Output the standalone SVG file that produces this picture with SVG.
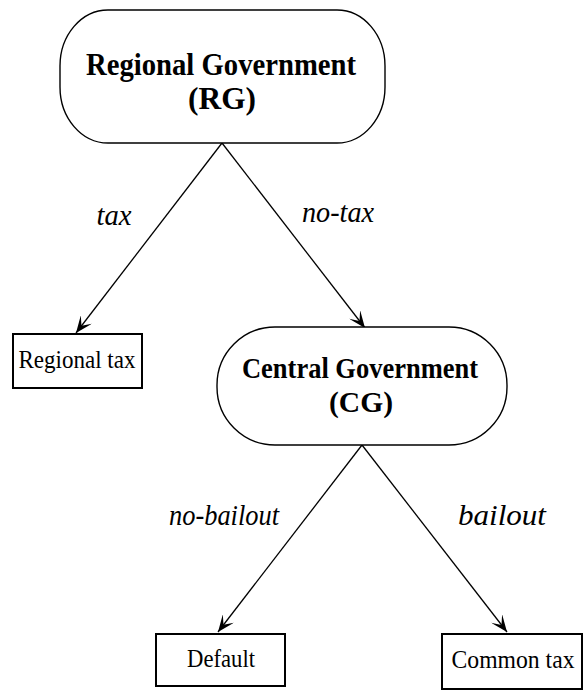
<svg xmlns="http://www.w3.org/2000/svg" width="583" height="691" viewBox="0 0 583 691">
<style>
.shape{fill:#fff;stroke:#000;stroke-width:1.4}
.box{fill:#fff;stroke:#000;stroke-width:2}
.edge{stroke:#000;stroke-width:1.3;fill:none}
.bold{font-family:"Liberation Serif","Times New Roman",serif;font-weight:bold;text-anchor:middle;fill:#000}
.reg{font-family:"Liberation Serif","Times New Roman",serif;font-size:26px;text-anchor:middle;fill:#000}
.lab{font-family:"Liberation Serif","Times New Roman",serif;font-style:italic;font-size:29px;text-anchor:middle;fill:#000}
</style>
<defs>
<marker id="ah" viewBox="0 0 17 14" refX="17" refY="7" markerWidth="17" markerHeight="14" markerUnits="userSpaceOnUse" orient="auto">
<path d="M0,0 L17,7 L0,14 L8,7 Z" fill="#000"/>
</marker>
</defs>
<g id="connectors">
<line class="edge" x1="222" y1="143" x2="76" y2="333" marker-end="url(#ah)"/>
<line class="edge" x1="222" y1="143" x2="365" y2="328" marker-end="url(#ah)"/>
<line class="edge" x1="362" y1="445" x2="218" y2="632" marker-end="url(#ah)"/>
<line class="edge" x1="362" y1="445" x2="507" y2="632" marker-end="url(#ah)"/>
<text class="lab" x="114" y="225" textLength="35" lengthAdjust="spacingAndGlyphs">tax</text>
<text class="lab" x="338" y="222" textLength="72" lengthAdjust="spacingAndGlyphs">no-tax</text>
<text class="lab" x="224" y="525" textLength="110" lengthAdjust="spacingAndGlyphs">no-bailout</text>
<text class="lab" x="502" y="525" textLength="88" lengthAdjust="spacingAndGlyphs">bailout</text>
</g>
<g id="rg">
<rect class="shape" x="60" y="10" width="325" height="133" rx="48" ry="56"/>
<text class="bold" x="221" y="75" font-size="32" textLength="270" lengthAdjust="spacingAndGlyphs">Regional Government</text>
<text class="bold" x="222" y="109" font-size="32" textLength="68" lengthAdjust="spacingAndGlyphs">(RG)</text>
</g>
<g id="regional-tax">
<rect class="box" x="13" y="334" width="129" height="54"/>
<text class="reg" x="77" y="368" textLength="117" lengthAdjust="spacingAndGlyphs">Regional tax</text>
</g>
<g id="cg">
<rect class="shape" x="217" y="327" width="290" height="118" rx="58" ry="58"/>
<text class="bold" x="360" y="378" font-size="29" textLength="236" lengthAdjust="spacingAndGlyphs">Central Government</text>
<text class="bold" x="361" y="412" font-size="29" textLength="64" lengthAdjust="spacingAndGlyphs">(CG)</text>
</g>
<g id="default">
<rect class="box" x="156" y="634" width="129" height="52"/>
<text class="reg" x="221" y="667" textLength="68" lengthAdjust="spacingAndGlyphs">Default</text>
</g>
<g id="common-tax">
<rect class="box" x="442" y="634" width="140" height="55"/>
<text class="reg" x="513" y="668" textLength="123" lengthAdjust="spacingAndGlyphs">Common tax</text>
</g>
</svg>
